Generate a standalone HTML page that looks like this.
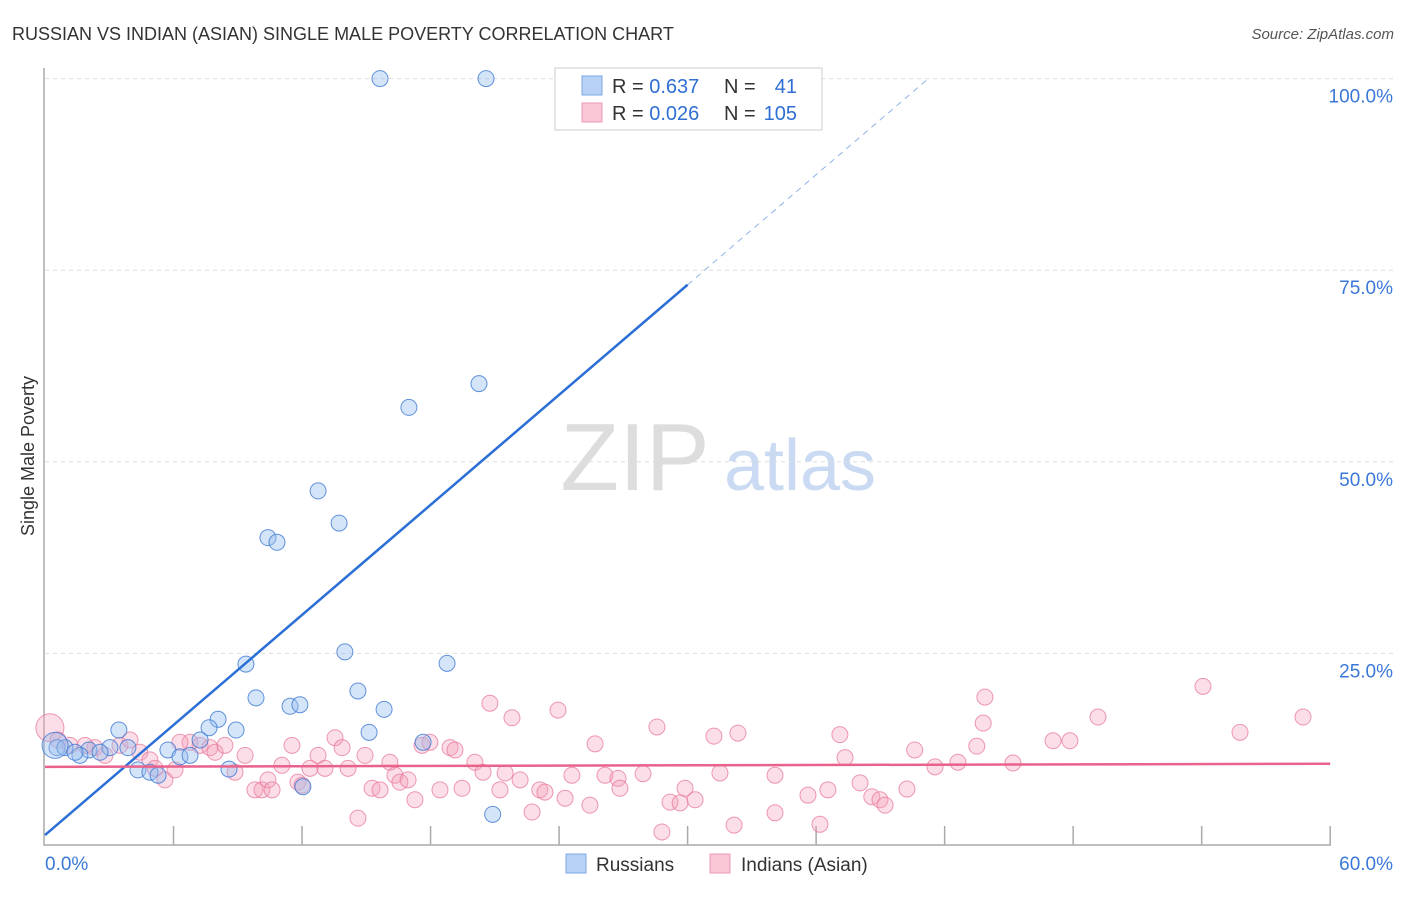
<!DOCTYPE html>
<html><head><meta charset="utf-8"><style>
body{margin:0;background:#fff;font-family:"Liberation Sans",sans-serif;}
svg text{font-family:"Liberation Sans",sans-serif;}
</style></head><body>
<svg width="1406" height="892" xmlns="http://www.w3.org/2000/svg">
<text x="12" y="40" font-size="18" fill="#333">RUSSIAN VS INDIAN (ASIAN) SINGLE MALE POVERTY CORRELATION CHART</text>
<text x="1394" y="39" font-size="15" fill="#555" font-style="italic" text-anchor="end">Source: ZipAtlas.com</text>
<text transform="translate(34,456) rotate(-90)" font-size="18" fill="#333" text-anchor="middle">Single Male Poverty</text>
<g><text x="635" y="490" font-size="96" fill="#ddd" text-anchor="middle" font-family="Liberation Serif">ZIP</text><text x="800" y="490" font-size="72" fill="#c9daf2" text-anchor="middle">atlas</text></g>
<g id="grid"></g>
<g id="axes"></g>
<g id="marks"></g>
<g>
<rect x="555" y="68" width="267" height="62" fill="#fff" stroke="#ccc"/>
<rect x="582" y="76" width="20" height="19" fill="#b7d2f5" stroke="#7aa9e6"/>
<rect x="582" y="103" width="20" height="19" fill="#f9c7d6" stroke="#ef9ab4"/>
<text x="612" y="93" font-size="20" fill="#333">R = <tspan fill="#2f6fd4">0.637</tspan></text>
<text x="724" y="93" font-size="20" fill="#333">N = </text><text x="797" y="93" font-size="20" fill="#2f6fd4" text-anchor="end">41</text>
<text x="612" y="120" font-size="20" fill="#333">R = <tspan fill="#2f6fd4">0.026</tspan></text>
<text x="724" y="120" font-size="20" fill="#333">N = </text><text x="797" y="120" font-size="20" fill="#2f6fd4" text-anchor="end">105</text>
</g>
<g>
<rect x="566" y="854" width="20" height="19" fill="#b7d2f5" stroke="#7aa9e6"/>
<text x="596" y="871" font-size="19" fill="#333">Russians</text>
<rect x="710" y="854" width="20" height="19" fill="#f9c7d6" stroke="#ef9ab4"/>
<text x="741" y="871" font-size="19" fill="#333">Indians (Asian)</text>
</g>
</svg>
<script>
const blueX=[15.64,20.59,20.26,16.99,12.75,13.73,10.41,10.83,14.0,9.38,18.77,14.61,9.85,15.83,11.44,11.9,8.08,7.66,8.92,3.45,15.13,17.65,7.24,3.87,5.74,0.56,0.93,2.05,3.03,1.63,6.3,6.77,8.59,4.34,4.9,5.28,12.04,20.9,0.47,2.57,1.4];
const blueY=[100,100,60.2,57.1,46.2,42.0,40.1,39.5,25.2,23.6,23.7,20.1,19.2,17.7,18.1,18.3,16.4,15.3,15.0,15.0,14.7,13.4,13.7,12.7,12.4,12.7,12.7,12.4,12.7,11.7,11.5,11.7,9.9,9.8,9.5,9.1,7.6,4.0,13.0,12.1,12.1];
const pinkX=[0.23,0.61,1.17,2.33,3.5,4.43,4.9,5.6,6.07,6.77,7.24,7.7,7.94,8.4,8.87,9.34,9.8,10.13,10.41,10.6,11.06,11.53,11.81,12.0,12.37,12.75,13.07,13.54,13.87,14.15,14.61,14.94,15.27,15.64,16.1,16.34,16.57,16.95,17.27,17.6,17.97,18.44,18.91,19.14,19.47,20.07,20.45,20.77,21.24,21.48,21.8,22.18,22.74,23.1,23.34,23.95,24.28,24.6,25.44,25.68,26.14,26.75,26.84,27.92,28.57,28.8,29.18,29.65,29.88,30.35,31.23,31.51,32.17,32.35,34.08,34.08,35.62,36.18,36.55,37.11,37.35,38.05,38.6,38.98,39.22,40.24,40.6,41.55,42.62,43.5,43.8,43.88,45.19,47.06,47.85,49.16,54.06,55.79,58.73,1.87,2.8,3.97,5.14,6.3];
const pinkY=[15.3,13.7,13.0,12.7,13.0,12.1,11.1,8.5,9.8,13.4,13.0,12.7,12.1,13.0,9.5,11.7,7.2,7.2,8.5,7.2,10.4,13.0,8.2,7.8,10.0,11.7,10.0,14.0,12.7,10.0,3.5,11.7,7.4,7.2,10.8,9.1,8.2,8.5,5.9,13.0,13.4,7.2,12.7,12.4,7.4,10.8,9.5,18.5,7.2,9.4,16.6,8.5,4.3,7.2,6.9,17.6,6.1,9.1,5.2,13.2,9.1,8.7,7.4,9.3,15.4,1.7,5.6,5.5,7.4,5.9,14.2,9.4,2.6,14.6,4.2,9.1,6.5,2.7,7.2,14.4,11.4,8.1,6.3,5.9,5.2,7.3,12.4,10.2,10.8,12.9,15.9,19.3,10.7,13.6,13.6,16.7,20.7,14.7,16.7,13.0,11.7,13.7,10.0,13.4];
const yTicks=[25,50,75,100];
const xTickLabels=["0.0%","60.0%"];
const blueTrend=[1.3,73.1]; // y at x=0 and x=30
const pinkTrend=[10.2,10.6]; // y at x=0 and x=60
const NS="http://www.w3.org/2000/svg";
const X=v=>45+v*21.42, Y=v=>845-v*7.664;
function mk(tag,attrs,parent){const e=document.createElementNS(NS,tag);for(const k in attrs)e.setAttribute(k,attrs[k]);document.getElementById(parent).appendChild(e);return e;}
yTicks.forEach(t=>{
 const g=mk('line',{x1:45,x2:1395,y1:Y(t),y2:Y(t),stroke:'#ddd','stroke-dasharray':'4,4'},'grid');
 
 
 const l=mk('text',{x:1393,y:Y(t)+24,'font-size':19,fill:'#3a78d8','text-anchor':'end'},'grid');
 l.textContent=t.toFixed(1)+'%';
 
 
});
const ax=mk('path',{d:'M44,68V845H1331',stroke:'#aaa',fill:'none','stroke-width':1.5},'axes');


for(let i=1;i<=10;i++){const t=mk('line',{x1:X(i*6),x2:X(i*6),y1:826,y2:845,stroke:'#aaa','stroke-width':1.5},'axes');
 
 }
const xl0=mk('text',{x:45,y:870,'font-size':19,fill:'#3a78d8'},'axes');xl0.textContent=xTickLabels[0];


const xl1=mk('text',{x:1393,y:870,'font-size':19,fill:'#3a78d8','text-anchor':'end'},'axes');xl1.textContent=xTickLabels[1];


pinkX.forEach((v,i)=>{const c=mk('circle',{cx:X(v),cy:Y(pinkY[i]),r:i==0?14:8,fill:'rgba(244,160,186,0.35)',stroke:'rgba(232,120,155,0.75)','stroke-width':1},'marks');
 
 });
blueX.forEach((v,i)=>{const c=mk('circle',{cx:X(v),cy:Y(blueY[i]),r:i==38?13:8,fill:'rgba(150,190,240,0.4)',stroke:'rgba(60,120,210,0.8)','stroke-width':1},'marks');
 
 });
const slope=(blueTrend[1]-blueTrend[0])/30;
const bl=mk('line',{x1:X(0),y1:Y(blueTrend[0]),x2:X(30),y2:Y(blueTrend[1]),stroke:'#2b6fd6','stroke-width':2.5},'marks');


const xEnd=(100-blueTrend[0])/slope;
const bd=mk('line',{x1:X(30),y1:Y(blueTrend[1]),x2:X(xEnd),y2:Y(100),stroke:'#8fb3e6','stroke-width':1,'stroke-dasharray':'6,5'},'marks');


const pl=mk('line',{x1:X(0),y1:Y(pinkTrend[0]),x2:X(60),y2:Y(pinkTrend[1]),stroke:'#e8628c','stroke-width':2.5},'marks');


</script>
</body></html>
